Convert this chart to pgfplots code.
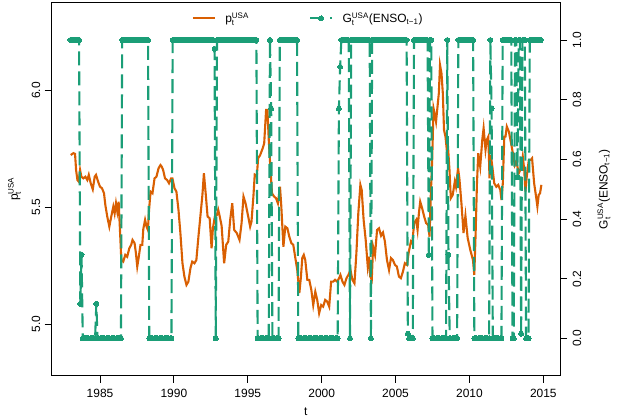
\documentclass[border=0pt]{standalone}
\usepackage{pgfplots}
\pgfplotsset{compat=1.18}
\usepackage{amsmath}
\usepackage{fontspec}
\setmainfont{Liberation Sans}
\definecolor{dkorange}{RGB}{217,95,2}
\definecolor{dkgreen}{RGB}{27,158,119}
\pgfplotsset{
  olegend/.style={legend image code/.code={\draw[##1] (0bp,0bp) -- (21.6bp,0bp);}},
  glegend/.style={legend image code/.code={\draw[##1, mark repeat=2, mark phase=2] plot coordinates {(0bp,0bp) (10.8bp,0bp) (21.6bp,0bp)};}},
}
\begin{document}
\begin{tikzpicture}
\pgfplotsset{
  every axis/.append style={font=\fontsize{12}{14}\selectfont},
  base/.style={scale only axis, width=508.3bp, height=373bp, at={(0,0)}, anchor=south west,
    xmin=1981.73, xmax=2016.13, tick align=outside, major tick length=7bp,
    axis line style={line width=0.8bp}, every tick/.style={line width=0.8bp, black}},
  gline/.style={dkgreen, line width=2.1bp, dash pattern=on 14bp off 6bp, mark=*,
    mark size=2.5bp, mark options={solid, fill=dkgreen, draw=dkgreen, line width=0bp}},
  oline/.style={dkorange, line width=2.1bp},
}
\path[use as bounding box] (-51.7bp,-43.3bp) rectangle (573.3bp,375.7bp);
\begin{axis}[base, ymin=4.778, ymax=6.377,
  xtick={1985,1990,1995,2000,2005,2010,2015},
  xticklabels={1985,1990,1995,2000,2005,2010,2015},
  xtick pos=bottom, ytick={5,5.5,6}, yticklabels={5.0,5.5,6.0}, ytick pos=left,
  xticklabel style={anchor=base, yshift=-14.6bp},
  yticklabel style={xshift=-4.5bp, rotate=90, anchor=base},
  xlabel={t}, ylabel={p$_{\text{t}}^{\text{USA}}$},
  every axis x label/.style={at={(axis description cs:0.5,-0.107)}, anchor=base},
  every axis y label/.style={at={(axis description cs:-0.0663,0.5)}, rotate=90, anchor=base},
]
\addplot[oline] coordinates {
(1983.02,5.724)(1983.20,5.732)(1983.31,5.729)(1983.38,5.660)(1983.47,5.617)(1983.56,5.610)
(1983.65,5.660)(1983.74,5.631)(1983.87,5.624)(1984.01,5.631)(1984.14,5.617)(1984.24,5.639)
(1984.37,5.603)(1984.51,5.577)(1984.64,5.631)(1984.73,5.639)(1984.87,5.610)(1985.00,5.588)
(1985.13,5.582)(1985.27,5.560)(1985.36,5.510)(1985.49,5.460)(1985.63,5.417)(1985.76,5.460)
(1985.90,5.503)(1985.99,5.474)(1986.08,5.517)(1986.17,5.481)(1986.26,5.524)(1986.35,5.403)
(1986.44,5.274)(1986.57,5.267)(1986.71,5.296)(1986.84,5.288)(1986.98,5.324)(1987.11,5.339)
(1987.20,5.360)(1987.34,5.346)(1987.43,5.303)(1987.52,5.246)(1987.61,5.282)(1987.74,5.339)
(1987.86,5.339)(1987.93,5.407)(1988.05,5.446)(1988.15,5.417)(1988.24,5.403)(1988.32,5.489)
(1988.42,5.567)(1988.55,5.560)(1988.69,5.624)(1988.82,5.631)(1988.96,5.667)(1989.09,5.681)
(1989.18,5.674)(1989.27,5.660)(1989.40,5.624)(1989.54,5.617)(1989.67,5.603)(1989.81,5.624)
(1989.90,5.624)(1990.04,5.582)(1990.17,5.567)(1990.31,5.489)(1990.44,5.389)(1990.58,5.260)
(1990.71,5.203)(1990.85,5.167)(1990.98,5.181)(1991.12,5.239)(1991.24,5.267)(1991.39,5.260)
(1991.52,5.274)(1991.66,5.374)(1991.79,5.460)(1991.93,5.553)(1992.03,5.646)(1992.15,5.560)
(1992.28,5.460)(1992.42,5.453)(1992.55,5.324)(1992.64,5.410)(1992.77,5.460)(1992.91,5.467)
(1993.00,5.489)(1993.09,5.464)(1993.23,5.420)(1993.40,5.260)(1993.54,5.339)(1993.68,5.353)
(1993.81,5.446)(1993.95,5.517)(1994.08,5.403)(1994.26,5.389)(1994.44,5.360)(1994.58,5.432)
(1994.71,5.546)(1994.85,5.517)(1995.03,5.460)(1995.16,5.417)(1995.25,5.438)(1995.38,5.546)
(1995.47,5.639)(1995.61,5.631)(1995.70,5.710)(1995.84,5.724)(1995.92,5.738)(1996.01,5.753)
(1996.11,5.774)(1996.24,5.917)(1996.33,5.917)(1996.42,5.789)(1996.55,5.646)(1996.64,5.560)
(1996.78,5.546)(1996.91,5.539)(1997.04,5.517)(1997.18,5.588)(1997.27,5.503)(1997.41,5.331)
(1997.54,5.417)(1997.68,5.410)(1997.81,5.374)(1997.95,5.346)(1998.08,5.339)(1998.22,5.282)
(1998.35,5.231)(1998.49,5.132)(1998.59,5.197)(1998.69,5.283)(1998.79,5.296)(1998.89,5.274)
(1999.03,5.189)(1999.16,5.189)(1999.30,5.146)(1999.43,5.081)(1999.57,5.138)(1999.70,5.103)
(1999.83,5.046)(1999.97,5.081)(2000.10,5.074)(2000.24,5.103)(2000.37,5.096)(2000.51,5.074)
(2000.64,5.181)(2000.78,5.181)(2000.91,5.189)(2001.05,5.181)(2001.18,5.196)(2001.27,5.210)
(2001.41,5.181)(2001.54,5.167)(2001.68,5.196)(2001.81,5.210)(2001.95,5.231)(2002.08,5.189)
(2002.22,5.174)(2002.35,5.303)(2002.48,5.474)(2002.62,5.596)(2002.71,5.574)(2002.84,5.446)
(2002.98,5.360)(2003.12,5.246)(2003.21,5.288)(2003.29,5.203)(2003.39,5.189)(2003.48,5.331)
(2003.61,5.296)(2003.75,5.403)(2003.88,5.410)(2004.02,5.378)(2004.15,5.392)(2004.28,5.353)
(2004.42,5.274)(2004.56,5.231)(2004.69,5.282)(2004.82,5.274)(2004.96,5.253)(2005.09,5.246)
(2005.23,5.203)(2005.36,5.196)(2005.50,5.224)(2005.63,5.260)(2005.77,5.253)(2005.90,5.310)
(2006.04,5.353)(2006.13,5.346)(2006.26,5.432)(2006.40,5.446)(2006.49,5.403)(2006.58,5.474)
(2006.67,5.524)(2006.80,5.496)(2006.94,5.460)(2007.07,5.432)(2007.21,5.424)(2007.30,5.374)
(2007.39,5.560)(2007.48,5.703)(2007.57,5.924)(2007.66,5.896)(2007.74,5.867)(2007.84,5.931)
(2007.93,5.989)(2008.01,6.110)(2008.11,6.074)(2008.20,5.989)(2008.28,5.831)(2008.38,5.803)
(2008.47,5.746)(2008.55,5.760)(2008.65,5.660)(2008.74,5.539)(2008.87,5.553)(2009.01,5.610)
(2009.09,5.588)(2009.23,5.667)(2009.32,5.624)(2009.46,5.517)(2009.60,5.390)(2009.73,5.464)
(2009.88,5.369)(2010.06,5.317)(2010.24,5.274)(2010.33,5.210)(2010.42,5.389)(2010.51,5.603)
(2010.60,5.732)(2010.73,5.674)(2010.87,5.789)(2010.96,5.839)(2011.09,5.746)(2011.18,5.789)
(2011.28,5.803)(2011.36,5.624)(2011.45,5.724)(2011.55,5.674)(2011.68,5.603)(2011.82,5.588)
(2011.95,5.596)(2012.09,5.574)(2012.17,5.531)(2012.26,5.603)(2012.36,5.803)(2012.44,5.803)
(2012.53,5.846)(2012.67,5.824)(2012.80,5.781)(2012.94,5.732)(2013.07,5.681)(2013.17,5.696)
(2013.25,5.674)(2013.34,5.646)(2013.44,5.660)(2013.52,5.674)(2013.61,5.717)(2013.71,5.660)
(2013.79,5.567)(2013.88,5.631)(2014.02,5.703)(2014.15,5.703)(2014.24,5.710)(2014.38,5.603)
(2014.51,5.546)(2014.60,5.503)(2014.69,5.553)(2014.78,5.560)(2014.87,5.596)
};
\end{axis}
\begin{axis}[base, ymin=-0.125, ymax=1.125,
  axis x line=none, axis y line*=right, xtick=\empty,
  ytick={0,0.2,0.4,0.6,0.8,1}, yticklabels={0.0,0.2,0.4,0.6,0.8,1.0}, ytick pos=right,
  yticklabel style={xshift=14bp, rotate=90, anchor=base},
  ylabel={G$_{\text{t}}^{\text{USA}}$(ENSO$_{\text{t−1}}$)},
  every axis y label/.style={at={(axis description cs:1.0935,0.5)}, rotate=90, anchor=base},
  legend columns=2,
  legend style={draw=none, fill=none, inner sep=0pt, column sep=0pt,
    at={(axis description cs:0.2754,0.958)}, anchor=west,
    nodes={inner sep=0pt}, /tikz/every odd column/.append style={column sep=9.7bp}},
  legend cell align=left,
]
\addlegendimage{oline, olegend}
\addlegendentry{\makebox[84bp][l]{p$_{\text{t}}^{\text{USA}}$}}
\addplot[gline, glegend] table[row sep=\\] {
x y\\
1983.000 1\\1983.083 1\\1983.167 1\\1983.250 1\\1983.333 1\\1983.417 1\\1983.500 1\\1983.583 1\\1983.667 0.116\\1983.750 0.28\\1983.833 0\\1983.917 0\\
1984.000 0\\1984.083 0\\1984.167 0\\1984.250 0\\1984.333 0\\1984.417 0\\1984.500 0\\1984.583 0\\1984.667 0\\1984.750 0.116\\1984.833 0\\1984.917 0\\
1985.000 0\\1985.083 0\\1985.167 0\\1985.250 0\\1985.333 0\\1985.417 0\\1985.500 0\\1985.583 0\\1985.667 0\\1985.750 0\\1985.833 0\\1985.917 0\\
1986.000 0\\1986.083 0\\1986.167 0\\1986.250 0\\1986.333 0\\1986.417 0\\1986.500 1\\1986.583 1\\1986.667 1\\1986.750 1\\1986.833 1\\1986.917 1\\
1987.000 1\\1987.083 1\\1987.167 1\\1987.250 1\\1987.333 1\\1987.417 1\\1987.500 1\\1987.583 1\\1987.667 1\\1987.750 1\\1987.833 1\\1987.917 1\\
1988.000 1\\1988.083 1\\1988.167 1\\1988.250 1\\1988.333 0\\1988.417 0\\1988.500 0\\1988.583 0\\1988.667 0\\1988.750 0\\1988.833 0\\1988.917 0\\
1989.000 0\\1989.083 0\\1989.167 0\\1989.250 0\\1989.333 0\\1989.417 0\\1989.500 0\\1989.583 0\\1989.667 0\\1989.750 0\\1989.833 0\\1989.917 1\\
1990.000 1\\1990.083 1\\1990.167 1\\1990.250 1\\1990.333 1\\1990.417 1\\1990.500 1\\1990.583 1\\1990.667 1\\1990.750 1\\1990.833 1\\1990.917 1\\
1991.000 1\\1991.083 1\\1991.167 1\\1991.250 1\\1991.333 1\\1991.417 1\\1991.500 1\\1991.583 1\\1991.667 1\\1991.750 1\\1991.833 1\\1991.917 1\\
1992.000 1\\1992.083 1\\1992.167 1\\1992.250 1\\1992.333 1\\1992.417 1\\1992.500 1\\1992.583 1\\1992.667 1\\1992.750 0.97\\1992.833 0\\1992.917 1\\
1993.000 1\\1993.083 1\\1993.167 1\\1993.250 1\\1993.333 1\\1993.417 1\\1993.500 1\\1993.583 1\\1993.667 1\\1993.750 1\\1993.833 1\\1993.917 1\\
1994.000 1\\1994.083 1\\1994.167 1\\1994.250 1\\1994.333 1\\1994.417 1\\1994.500 1\\1994.583 1\\1994.667 1\\1994.750 1\\1994.833 1\\1994.917 1\\
1995.000 1\\1995.083 1\\1995.167 1\\1995.250 1\\1995.333 1\\1995.417 1\\1995.500 1\\1995.583 1\\1995.667 0\\1995.750 0\\1995.833 0\\1995.917 0\\
1996.000 0\\1996.083 0\\1996.167 0\\1996.250 0\\1996.333 0\\1996.417 0\\1996.500 1\\1996.583 0.77\\1996.667 0\\1996.750 0\\1996.833 0\\1996.917 0\\
1997.000 0\\1997.083 0\\1997.167 1\\1997.250 1\\1997.333 1\\1997.417 1\\1997.500 1\\1997.583 1\\1997.667 1\\1997.750 1\\1997.833 1\\1997.917 1\\
1998.000 1\\1998.083 1\\1998.167 1\\1998.250 1\\1998.333 1\\1998.417 0\\1998.500 0\\1998.583 0\\1998.667 0\\1998.750 0\\1998.833 0\\1998.917 0\\
1999.000 0\\1999.083 0\\1999.167 0\\1999.250 0\\1999.333 0\\1999.417 0\\1999.500 0\\1999.583 0\\1999.667 0\\1999.750 0\\1999.833 0\\1999.917 0\\
2000.000 0\\2000.083 0\\2000.167 0\\2000.250 0\\2000.333 0\\2000.417 0\\2000.500 0\\2000.583 0\\2000.667 0\\2000.750 0\\2000.833 0\\2000.917 0\\
2001.000 0\\2001.083 0\\2001.167 0.77\\2001.250 0.91\\2001.333 1\\2001.417 1\\2001.500 1\\2001.583 1\\2001.667 1\\2001.750 1\\2001.833 1\\2001.917 0\\
2002.000 1\\2002.083 1\\2002.167 1\\2002.250 1\\2002.333 1\\2002.417 1\\2002.500 1\\2002.583 1\\2002.667 1\\2002.750 1\\2002.833 1\\2002.917 1\\
2003.000 1\\2003.083 1\\2003.167 1\\2003.250 1\\2003.333 0\\2003.417 1\\2003.500 1\\2003.583 1\\2003.667 1\\2003.750 1\\2003.833 1\\2003.917 1\\
2004.000 1\\2004.083 1\\2004.167 1\\2004.250 1\\2004.333 1\\2004.417 1\\2004.500 1\\2004.583 1\\2004.667 1\\2004.750 1\\2004.833 1\\2004.917 1\\
2005.000 1\\2005.083 1\\2005.167 1\\2005.250 1\\2005.333 1\\2005.417 1\\2005.500 1\\2005.583 1\\2005.667 1\\2005.750 1\\2005.833 0.016\\2005.917 0\\
2006.000 0\\2006.083 0\\2006.167 0\\2006.250 1\\2006.333 1\\2006.417 1\\2006.500 1\\2006.583 1\\2006.667 1\\2006.750 1\\2006.833 1\\2006.917 1\\
2007.000 1\\2007.083 1\\2007.167 1\\2007.250 0.28\\2007.333 1\\2007.417 1\\2007.500 0\\2007.583 0\\2007.667 0\\2007.750 0\\2007.833 0\\2007.917 0\\
2008.000 0\\2008.083 0\\2008.167 0\\2008.250 0\\2008.333 0\\2008.417 0\\2008.500 1\\2008.583 0.28\\2008.667 0\\2008.750 0\\2008.833 0\\2008.917 0\\
2009.000 0\\2009.083 0\\2009.167 0\\2009.250 1\\2009.333 1\\2009.417 1\\2009.500 1\\2009.583 1\\2009.667 1\\2009.750 1\\2009.833 1\\2009.917 1\\
2010.000 1\\2010.083 1\\2010.167 1\\2010.250 1\\2010.333 0\\2010.417 0\\2010.500 0\\2010.583 0\\2010.667 0\\2010.750 0\\2010.833 0\\2010.917 0\\
2011.000 0\\2011.083 0\\2011.167 0\\2011.250 0\\2011.333 0\\2011.417 1\\2011.500 0.77\\2011.583 0\\2011.667 0\\2011.750 0\\2011.833 0\\2011.917 0\\
2012.000 0\\2012.083 0\\2012.167 0\\2012.250 1\\2012.333 1\\2012.417 1\\2012.500 1\\2012.583 1\\2012.667 1\\2012.750 1\\2012.833 1\\2012.917 0\\
2013.000 0\\2013.083 1\\2013.167 1\\2013.250 0.54\\2013.333 1\\2013.417 1\\2013.500 0.016\\2013.583 1\\2013.667 1\\2013.750 1\\2013.833 0\\2013.917 0\\
2014.000 0\\2014.083 1\\2014.167 1\\2014.250 1\\2014.333 1\\2014.417 1\\2014.500 1\\2014.583 1\\2014.667 1\\2014.750 1\\2014.833 1\\
};
\addlegendentry{G$_{\text{t}}^{\text{USA}}$(ENSO$_{\text{t−1}}$)}
\end{axis}
\end{tikzpicture}
\end{document}
